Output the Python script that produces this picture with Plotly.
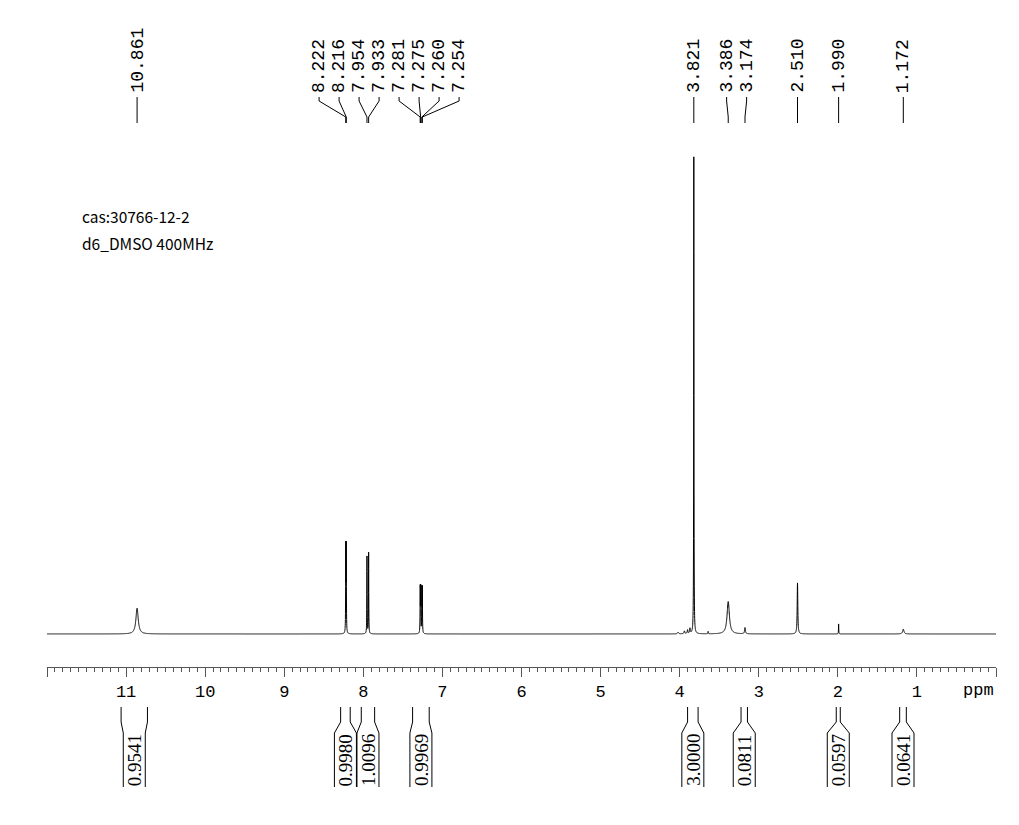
import numpy as np
import plotly.graph_objects as go

# ---------------- data ----------------
# peak list: chemical shift (ppm), relative height (tallest = 100), line width (FWHM, ppm)
peak_ppm = [10.861, 8.222, 8.216, 7.954, 7.933, 7.281, 7.275, 7.260, 7.254,
            4.02, 3.94, 3.90, 3.87, 3.821, 3.64, 3.386, 3.174, 2.510, 1.990, 1.172]
peak_height = [5.4, 17.7, 17.7, 16.2, 17.0, 9.3, 9.3, 9.1, 9.1,
               0.35, 0.6, 0.8, 1.1, 100.0, 0.5, 6.8, 1.3, 10.7, 2.1, 1.0]
peak_width = [0.035, 0.004, 0.004, 0.004, 0.004, 0.004, 0.004, 0.004, 0.004,
              0.015, 0.012, 0.010, 0.010, 0.004, 0.006, 0.035, 0.012, 0.009, 0.004, 0.02]

# labelled peaks (top of chart)
label_ppm = [10.861, 8.222, 8.216, 7.954, 7.933, 7.281, 7.275, 7.260, 7.254,
             3.821, 3.386, 3.174, 2.510, 1.990, 1.172]

# integrals: (left ppm, right ppm, value)
integral_left = [11.063, 8.287, 8.026, 7.377, 3.900, 3.224, 2.020, 1.218]
integral_right = [10.730, 8.166, 7.857, 7.167, 3.767, 3.143, 1.969, 1.134]
integral_value = ["0.9541", "0.9980", "1.0096", "0.9969", "3.0000", "0.0811", "0.0597", "0.0641"]

tick_vals = list(range(0, 13))
tick_text = ["" if v in (0, 12) else str(v) for v in tick_vals]

info_lines = ["cas:30766-12-2", "d6_DMSO 400MHz"]

# ---------------- layout helpers ----------------
FIG_W, FIG_H = 1019, 825
M_L, M_R = 47, 23
PLOT_W = FIG_W - M_L - M_R
X_MAX, X_MIN = 12.0, 0.0


def px_of(ppm):
    return M_L + (X_MAX - ppm) * PLOT_W / (X_MAX - X_MIN)


def ppm_of(px):
    return X_MAX - (px - M_L) * (X_MAX - X_MIN) / PLOT_W


# spectrum curve from the peak list (Lorentzian lines)
x = np.round(np.arange(X_MAX, X_MIN - 0.0005, -0.001), 4)
y = np.zeros_like(x)
for p, h, w in zip(peak_ppm, peak_height, peak_width):
    y += h / (1 + ((x - p) / (w / 2)) ** 2)

fig = go.Figure()
fig.add_trace(go.Scatter(x=x, y=y, mode="lines",
                         line=dict(color="black", width=1, simplify=False),
                         hoverinfo="skip", showlegend=False))

# ---------------- peak labels (spread so they do not overlap) ----------------
MIN_SEP = 20.0
pk_px = [px_of(p) for p in label_ppm]
clusters = [[i] for i in range(len(pk_px))]


def place(c):
    n = len(c)
    center = sum(pk_px[i] for i in c) / n
    return [center + (k - (n - 1) / 2) * MIN_SEP for k in range(n)]


merged = True
while merged:
    merged = False
    for j in range(len(clusters) - 1):
        a, b = place(clusters[j]), place(clusters[j + 1])
        if b[0] - a[-1] < MIN_SEP:
            clusters[j] = clusters[j] + clusters[j + 1]
            del clusters[j + 1]
            merged = True
            break
lab_px = [0.0] * len(pk_px)
for c in clusters:
    for i, v in zip(c, place(c)):
        lab_px[i] = v

lx, ly = [], []
annotations = []
for p, lpx in zip(label_ppm, lab_px):
    lx += [ppm_of(lpx), ppm_of(lpx), p, p, None]
    ly += [97, 101, 117, 123, None]
    annotations.append(dict(x=ppm_of(lpx), y=94, xref="x", yref="y2",
                            text=f"{p:.3f}", textangle=-90, showarrow=False,
                            xanchor="center", yanchor="bottom", borderpad=0,
                            font=dict(family="Liberation Mono", size=18, color="black")))
fig.add_trace(go.Scatter(x=lx, y=ly, yaxis="y2", mode="lines",
                         line=dict(color="black", width=1),
                         hoverinfo="skip", showlegend=False))

# ---------------- integrals ----------------
ix, iy = [], []
HALF = 11
for a, b, v in zip(integral_left, integral_right, integral_value):
    xl, xr = px_of(a), px_of(b)
    c = (xl + xr) / 2
    ix += [a, a, ppm_of(c - HALF), ppm_of(c - HALF), None]
    iy += [707, 722, 733, 787, None]
    ix += [b, b, ppm_of(c + HALF), ppm_of(c + HALF), None]
    iy += [707, 722, 733, 787, None]
    annotations.append(dict(x=ppm_of(c), y=787, xref="x", yref="y2",
                            text=v, textangle=-90, showarrow=False,
                            xanchor="center", yanchor="bottom", borderpad=0,
                            font=dict(family="Liberation Serif", size=19, color="black")))
fig.add_trace(go.Scatter(x=ix, y=iy, yaxis="y2", mode="lines",
                         line=dict(color="black", width=1),
                         hoverinfo="skip", showlegend=False))

# ppm unit label
annotations.append(dict(x=ppm_of(978), y=690, xref="x", yref="y2", text="ppm",
                        showarrow=False, xanchor="center", yanchor="middle",
                        font=dict(family="Liberation Mono", size=17, color="black")))

# sample info
for k, t in enumerate(info_lines):
    annotations.append(dict(x=(80 - M_L) / PLOT_W, y=216 + 27 * k, xref="paper", yref="y2",
                            text=t, showarrow=False, xanchor="left", yanchor="middle",
                            font=dict(family="Noto Sans CJK SC", size=15.5, color="black")))

AX_Y = 667
fig.update_layout(
    width=FIG_W, height=FIG_H,
    margin=dict(l=M_L, r=M_R, t=0, b=0, pad=0),
    paper_bgcolor="white", plot_bgcolor="rgba(0,0,0,0)",
    showlegend=False,
    annotations=annotations,
    xaxis=dict(range=[X_MAX, X_MIN], domain=[0, 1], anchor="free",
               position=1 - AX_Y / FIG_H,
               showline=True, linecolor="#555555", linewidth=1,
               ticks="outside", ticklen=9, tickcolor="#555555", tickwidth=1,
               tickmode="array", tickvals=tick_vals, ticktext=tick_text,
               tickfont=dict(family="Liberation Mono", size=17, color="black"),
               minor=dict(ticks="outside", ticklen=4, tickcolor="#555555",
                          tick0=0, dtick=0.1, showgrid=False),
               showgrid=False, zeroline=False),
    yaxis=dict(domain=[(FIG_H - 643.5) / FIG_H, (FIG_H - 154.6) / FIG_H],
               range=[-2, 100.5], visible=False, anchor="x", showgrid=False),
    yaxis2=dict(domain=[0, 1], range=[FIG_H, 0], visible=False, anchor="x",
                showgrid=False),
)

fig.write_html("out.html")
